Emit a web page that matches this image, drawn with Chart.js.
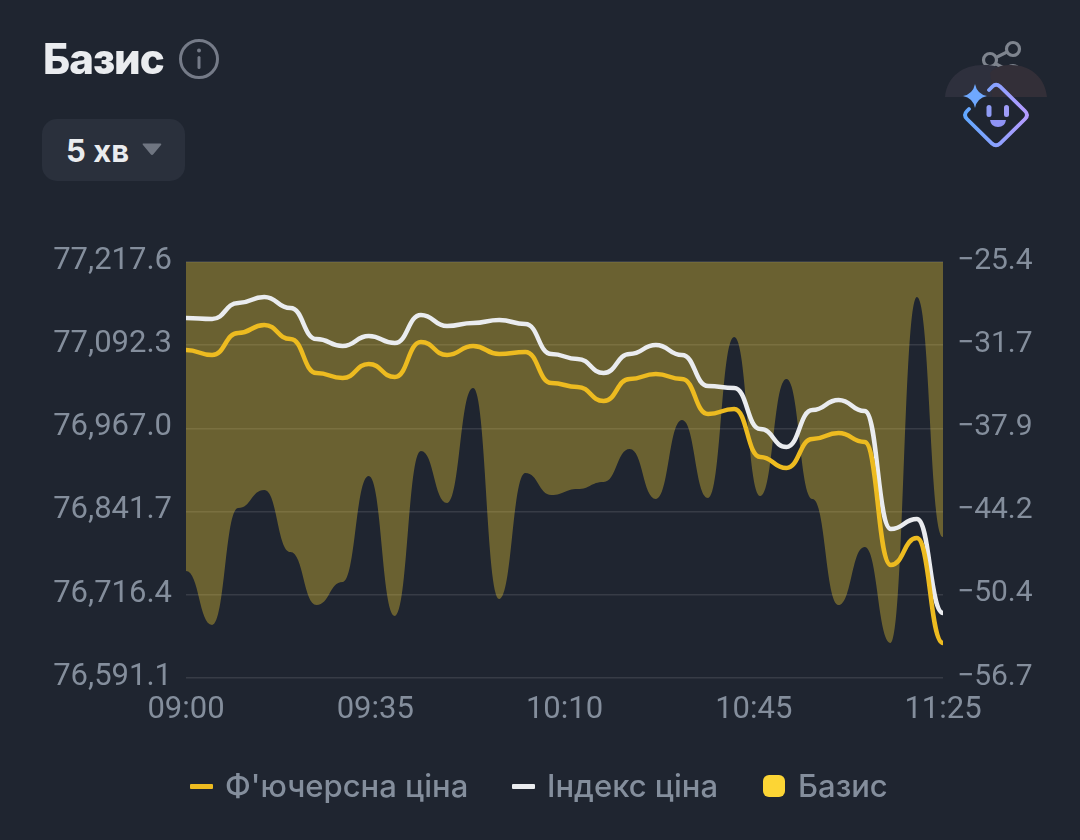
<!DOCTYPE html>
<html lang="uk">
<head>
<meta charset="utf-8">
<title>Базис</title>
<script src="https://cdn.jsdelivr.net/npm/chart.js@4"></script>
<style>
  html,body{margin:0;padding:0;background:#1f2530;width:1080px;height:840px;overflow:hidden}
  body{position:relative;font-family:Inter,"Noto Sans",sans-serif}
  #c{position:absolute;left:0;top:0}
  .t{position:absolute;white-space:nowrap;line-height:1}
  #title{left:43px;top:38px;font-size:42px;font-weight:800;color:#eaecef;letter-spacing:-1px}
  #btn{position:absolute;left:42px;top:119px;width:143px;height:62px;border-radius:15px;background:#2a303c}
  #btnText{left:66px;top:135px;font-size:31px;font-weight:700;color:#eaecef}
  #legend span{position:absolute}
  .lab{font-size:31px;color:#848e9c;line-height:1;white-space:nowrap;top:770px;font-weight:500}
  svg{position:absolute;left:0;top:0;pointer-events:none}
</style>
</head>
<body>
<canvas id="c" width="1080" height="840"></canvas>
<div id="title" class="t">Базис</div>
<div id="btn"></div>
<div id="btnText" class="t">5 хв</div>
<div id="legend"></div>
<svg width="1080" height="840" viewBox="0 0 1080 840">
  <defs>
    <linearGradient id="g" x1="963" y1="115" x2="1029" y2="115" gradientUnits="userSpaceOnUse">
      <stop offset="0" stop-color="#5fa8ff"/><stop offset="1" stop-color="#b79bff"/>
    </linearGradient>
  </defs>
  <circle cx="199" cy="59" r="18.5" fill="none" stroke="#757b88" stroke-width="3"/>
  <circle cx="199" cy="50.5" r="2" fill="#757b88"/>
  <rect x="197.5" y="56" width="3" height="13" rx="1.5" fill="#757b88"/>
  <path d="M143 143.5 H160.5 Q162 143.5 161 145 L153.500 154 Q152 156 150.500 154 L143 145 Q142 143.500 143 143.500Z" fill="#6f7581"/>
  <g fill="none" stroke="#7e848e" stroke-width="3.2">
    <circle cx="1013" cy="49" r="6.500"/><circle cx="990" cy="60" r="6.500"/><path d="M1007 52 L996 57.500"/><path d="M996 64 L1006 69"/><circle cx="1013" cy="72" r="6.500"/>
  </g>
  <path d="M945 97 C947 75 965 64 985 65 C994 65 1001 67 1006 74 C1008 84 1008 90 1008 97Z" fill="#2e303d"/>
  <path d="M1047 97 C1045 75 1027 64 1009 65 C1000 65 994 68 990 73 C992 84 992 90 992 97Z" fill="#332f38"/>
  <path d="M989 90 L992.500 86.500 Q996 83 1000 86.500 L1025 111 Q1029 115 1025 119 L1000 143.500 Q996 147 992 143.500 L967 119 Q963 115 967 111 L969 109" fill="none" stroke="url(#g)" stroke-width="3.800" stroke-linecap="round"/>
  <path d="M975 84 Q977 94 987 96 Q977 98 975 108 Q973 98 963 96 Q973 94 975 84Z" fill="#6fa8ff"/>
  <rect x="986.500" y="105" width="5" height="12" rx="2.500" fill="#8f9cf5"/>
  <rect x="1004" y="105" width="5" height="12" rx="2.500" fill="#9f9cf8"/>
  <path d="M990 120 H1006 Q1005 127 998 127 Q991 127 990 120Z" fill="#8f93f5"/>
</svg>
<script>
const timeLabels = ["09:00","09:05","09:10","09:15","09:20","09:25","09:30","09:35","09:40","09:45","09:50","09:55","10:00","10:05","10:10","10:15","10:20","10:25","10:30","10:35","10:40","10:45","10:50","10:55","11:00","11:05","11:10","11:15","11:20","11:25"];
const xTickLabels = ["09:00","09:35","10:10","10:45","11:25"];
const futuresPrice = [77085.1,77077.5,77110.7,77122.7,77101.6,77050.4,77042.9,77064.0,77044.4,77097.1,77077.5,77091.1,77079.0,77082.1,77035.4,77029.3,77008.3,77041.4,77048.9,77041.4,76988.7,76996.2,76923.9,76907.4,76951.0,76960.1,76946.5,76761.3,76801.9,76643.8];
const indexPrice = [77133.3,77131.8,77155.9,77164.9,77148.3,77101.6,77091.1,77106.2,77095.6,77137.8,77121.2,77125.7,77130.3,77124.2,77079.0,77071.5,77050.4,77079.0,77092.6,77077.5,77030.9,77027.8,76966.1,76939.0,76994.7,77009.8,76993.2,76815.5,76830.6,76689.0];
const basis = [-48.65,-52.71,-43.91,-42.55,-47.22,-51.21,-49.48,-41.50,-52.03,-39.62,-43.53,-34.88,-50.76,-41.28,-42.93,-42.48,-41.95,-39.47,-43.23,-37.29,-43.16,-31.04,-43.01,-34.20,-43.23,-51.21,-46.84,-54.07,-28.03,-46.09];
const priceTicks = [77217.6,77092.3,76967.0,76841.7,76716.4,76591.1];
const basisTicks = [-25.4,-31.7,-37.9,-44.2,-50.4,-56.7];
const seriesNames = ["Ф'ючерсна ціна","Індекс ціна","Базис"];

const TICK = "#848e9c", GRID = "rgba(255,255,255,0.11)";
const fontFamily = "Roboto, 'Noto Sans', sans-serif";
const fmt = v => v.toLocaleString("en-US",{minimumFractionDigits:1,maximumFractionDigits:1});

// Curve shape: flat tangent at every data point, with the control points halfway
// between neighbours, written onto the points of each line element.
const bumpCurve = {
  id:"bumpCurve",
  afterDatasetsUpdate(chart){
    chart.data.datasets.forEach((d,di)=>{
      const meta = chart.getDatasetMeta(di), pts = meta.data, n = pts.length;
      meta.dataset.updateControlPoints(chart.chartArea,"x");
      pts.forEach((pt,i)=>{
        if(i>0){pt.cp1x=(pt.x+pts[i-1].x)/2;pt.cp1y=pt.y;}
        if(i<n-1){pt.cp2x=(pt.x+pts[i+1].x)/2;pt.cp2y=pt.y;}
      });
    });
  }
};

new Chart(document.getElementById("c"),{
  type:"line",
  plugins:[bumpCurve],
  data:{labels:timeLabels,datasets:[
    {label:seriesNames[0],data:futuresPrice,yAxisID:"yPrice",xAxisID:"x",borderColor:"#edbb20",borderWidth:4.5,pointRadius:0,cubicInterpolationMode:"monotone",fill:false,order:1},
    {label:seriesNames[1],data:indexPrice,yAxisID:"yPrice",xAxisID:"x",borderColor:"#eaecef",borderWidth:4.5,pointRadius:0,cubicInterpolationMode:"monotone",fill:false,order:2},
    {label:seriesNames[2],data:basis,yAxisID:"yBasis",xAxisID:"x",borderWidth:0,borderColor:"rgba(0,0,0,0)",backgroundColor:"rgba(252,213,53,0.34)",pointRadius:0,cubicInterpolationMode:"monotone",fill:"end",order:3}
  ]},
  options:{
    responsive:false,animation:false,
    layout:{padding:{top:262,left:0,right:0,bottom:0}},
    plugins:{legend:{display:false},tooltip:{enabled:false},title:{display:false}},
    scales:{
      x:{type:"category",display:false,offset:false},
      xTicks:{type:"category",labels:xTickLabels,position:"bottom",offset:false,
        afterFit(s){s.height=840-678;},
        border:{display:false},grid:{display:false},
        ticks:{color:TICK,font:{family:fontFamily,size:31},maxRotation:0,autoSkip:false,padding:6}},
      yPrice:{type:"linear",position:"left",min:76591.1,max:77217.6,
        afterFit(s){s.width=186;},
        afterBuildTicks(s){s.ticks=priceTicks.map(v=>({value:v}));},
        border:{display:false},grid:{color:GRID,lineWidth:1.5,drawTicks:false},
        ticks:{color:TICK,font:{family:fontFamily,size:31},padding:14,labelOffset:-1,callback:v=>fmt(v)}},
      yBasis:{type:"linear",position:"right",min:-56.7,max:-25.4,
        afterFit(s){s.width=1080-943;},
        afterBuildTicks(s){s.ticks=basisTicks.map(v=>({value:v}));},
        border:{display:false},grid:{display:false,drawTicks:false},
        ticks:{color:TICK,font:{family:fontFamily,size:30},padding:14,labelOffset:-1,callback:v=>v.toFixed(1).replace("-","\u2212")}}
    }
  }
});

const lg = document.getElementById("legend");
const swatches = [
  {x:190,y:783.5,w:23,h:5,c:"#edbb20",r:1,tx:225},
  {x:512,y:783.5,w:23,h:5,c:"#eaecef",r:1,tx:547},
  {x:763,y:775,w:22,h:22,c:"#fcd535",r:6,tx:798}
];
swatches.forEach((s,i)=>{
  const b=document.createElement("span");
  b.style.cssText=`left:${s.x}px;top:${s.y}px;width:${s.w}px;height:${s.h}px;background:${s.c};border-radius:${s.r}px`;
  lg.appendChild(b);
  const t=document.createElement("span");
  t.className="lab";t.style.left=s.tx+"px";t.textContent=seriesNames[i];
  lg.appendChild(t);
});
</script>
</body>
</html>
